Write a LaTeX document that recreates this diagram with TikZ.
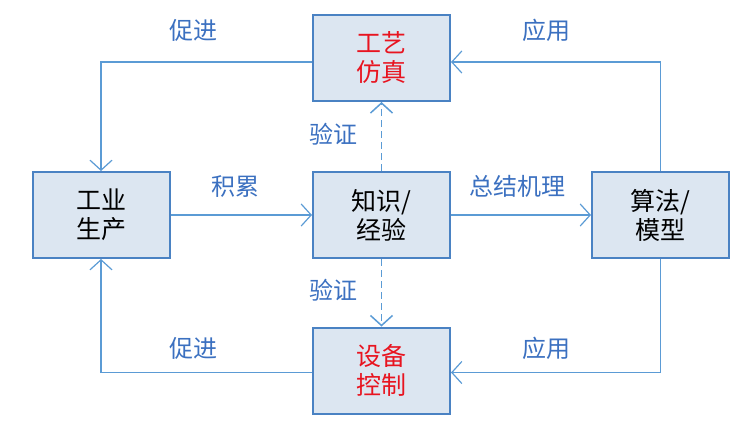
\documentclass[tikz,border=0pt]{standalone}
\usepackage{fontspec}
\newfontfamily\cjk{Noto Sans CJK SC}
\definecolor{boxFill}{RGB}{220,230,241}
\definecolor{boxEdge}{RGB}{74,130,195}
\definecolor{flowBlue}{RGB}{91,155,213}
\definecolor{tagBlue}{RGB}{59,112,192}
\definecolor{hotRed}{RGB}{232,20,32}
\usetikzlibrary{arrows.meta,positioning}

\begin{document}
\begin{tikzpicture}[x=1pt, y=-1pt,
    block/.style={draw=boxEdge, line width=2pt, fill=boxFill, minimum width=137pt,
      minimum height=86pt, inner sep=0pt, align=center,
      font=\cjk\fontsize{25}{29}\selectfont},
    flow/.style={flowBlue, line width=1.2pt, -{Straight Barb[length=10pt,width=22pt]}},
    tag/.style={font=\cjk\fontsize{24}{28}\selectfont, text=tagBlue}
  ]
  \useasboundingbox (0,0) rectangle (742,424);
  % five boxes
  \node[block, text=hotRed] (sim) at (381.5,58) {工艺\\仿真};
  \node[block] (prod) at (101,215) {工业\\生产};
  \node[block] (know) at (381.5,215) {知识/\\经验};
  \node[block] (algo) at (660.5,215) {算法/\\模型};
  \node[block, text=hotRed] (ctrl) at (381.5,370.5) {设备\\控制};
  % connectors
  \draw[flow] ([yshift=-4pt]sim.west) -| (prod.north);
  \draw[flow] (algo.north) |- ([yshift=-4pt]sim.east);
  \draw[flow] (algo.south) |- ([yshift=-2pt]ctrl.east);
  \draw[flow] ([yshift=-2pt]ctrl.west) -| (prod.south);
  \draw[flow] (prod.east) -- (know.west);
  \draw[flow] (know.east) -- (algo.west);
  \draw[flow, line width=1.5pt, dash pattern=on 7pt off 4pt] (know.north) -- (sim.south);
  \draw[flow, line width=1.5pt, dash pattern=on 7pt off 4pt] (know.south) -- (ctrl.north);
  % labels
  \node[tag] (tagA) at (193,30) {促进};
  \node[tag] (tagB) at (546,30) {应用};
  \node[tag] (tagC) at (193,348) {促进};
  \node[tag] (tagD) at (546,348) {应用};
  \node[tag] (tagE) at (235,186) {积累};
  \node[tag] (tagF) at (517,186) {总结机理};
  \node[tag] (tagG) at (333,134) {验证};
  \node[tag] (tagH) at (333,290) {验证};
\end{tikzpicture}
\end{document}
